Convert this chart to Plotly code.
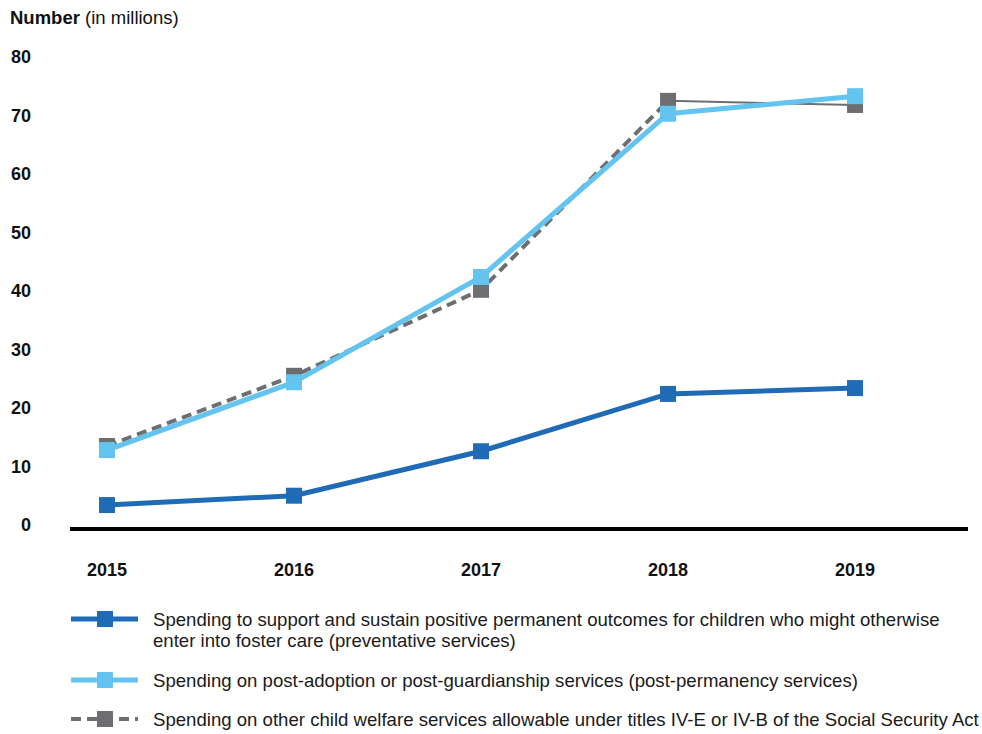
import plotly.graph_objects as go

# Spending by year, in millions of dollars
years = [2015, 2016, 2017, 2018, 2019]
preventative = [3.4, 5.0, 12.6, 22.4, 23.4]
post_permanency = [12.8, 24.4, 42.4, 70.3, 73.3]
other_services = [13.5, 25.5, 40.2, 72.5, 71.8]

y_ticks = [0, 10, 20, 30, 40, 50, 60, 70, 80]

series_names = [
    ["Spending to support and sustain positive permanent outcomes for children who might otherwise",
     "enter into foster care (preventative services)"],
    ["Spending on post-adoption or post-guardianship services (post-permanency services)"],
    ["Spending on other child welfare services allowable under titles IV-E or IV-B of the Social Security Act"],
]

DARK_BLUE = "#1f6bb5"
LIGHT_BLUE = "#62c4ef"
GREY = "#6d6e71"
FONT = "Arial, Liberation Sans, sans-serif"
TEXT = "#111111"

W, H = 982, 734
L, R, T, B = 70, 14, 57, 207
PW, PH = W - L - R, H - T - B


def px_x(px):
    return (px - L) / PW


def px_y(py):
    return (H - B - py) / PH


fig = go.Figure()

# Other services: dashed through 2018, thin solid for the final year
fig.add_trace(go.Scatter(
    x=years[:4], y=other_services[:4], mode="lines",
    line=dict(color=GREY, width=4, dash="10px,6px"),
    showlegend=False, hoverinfo="skip",
))
fig.add_trace(go.Scatter(
    x=years[3:], y=other_services[3:], mode="lines",
    line=dict(color=GREY, width=2),
    showlegend=False, hoverinfo="skip",
))
fig.add_trace(go.Scatter(
    x=years, y=other_services, mode="markers",
    marker=dict(symbol="square", size=16, color=GREY),
    name="Other services", showlegend=False,
))
fig.add_trace(go.Scatter(
    x=years, y=post_permanency, mode="lines+markers",
    line=dict(color=LIGHT_BLUE, width=5),
    marker=dict(symbol="square", size=16, color=LIGHT_BLUE),
    name="Post-permanency services", showlegend=False,
))
fig.add_trace(go.Scatter(
    x=years, y=preventative, mode="lines+markers",
    line=dict(color=DARK_BLUE, width=5),
    marker=dict(symbol="square", size=16, color=DARK_BLUE),
    name="Preventative services", showlegend=False,
))

# Legend drawn below the plot
shapes = []
annotations = []
legend_rows = [
    (DARK_BLUE, None, 619),
    (LIGHT_BLUE, None, 680),
    (GREY, "10px,6px", 719),
]
for (color, dash, sy), lines in zip(legend_rows, series_names):
    line = dict(color=color, width=5 if dash is None else 4)
    if dash:
        line["dash"] = dash
    shapes.append(dict(
        type="line", xref="paper", yref="paper",
        x0=px_x(71), x1=px_x(138), y0=px_y(sy), y1=px_y(sy), line=line,
    ))
    shapes.append(dict(
        type="rect", xref="paper", yref="paper",
        x0=px_x(97), x1=px_x(113), y0=px_y(sy - 8), y1=px_y(sy + 8),
        fillcolor=color, line=dict(width=0),
    ))
    for i, text in enumerate(lines):
        annotations.append(dict(
            text=text, xref="paper", yref="paper",
            x=px_x(151), y=px_y(sy + 21 * i), xanchor="left", yanchor="middle",
            align="left", showarrow=False,
            font=dict(family=FONT, size=18.6, color="#1a1a1a"),
        ))

annotations.append(dict(
    text="<b>Number</b> (in millions)", xref="paper", yref="paper",
    x=px_x(8), y=px_y(18), xanchor="left", yanchor="middle",
    showarrow=False, font=dict(family=FONT, size=18.5, color=TEXT),
))

fig.update_layout(
    width=W, height=H,
    margin=dict(l=L, r=R, t=T, b=B),
    paper_bgcolor="white", plot_bgcolor="white",
    shapes=shapes, annotations=annotations,
    font=dict(family=FONT, color=TEXT),
    xaxis=dict(
        range=[2014.802, 2019.604],
        tickvals=years, ticktext=[str(y) for y in years],
        showgrid=False, zeroline=False,
        showline=True, linecolor="black", linewidth=4,
        ticks="", ticklabelstandoff=23,
        tickfont=dict(family=FONT, size=18, weight="bold", color=TEXT),
    ),
    yaxis=dict(
        range=[-0.35, 80],
        tickvals=y_ticks,
        showgrid=False, zeroline=False, showline=False,
        ticks="", ticklabelstandoff=38,
        tickfont=dict(family=FONT, size=18, weight="bold", color=TEXT),
    ),
)

fig.write_html("out.html")
